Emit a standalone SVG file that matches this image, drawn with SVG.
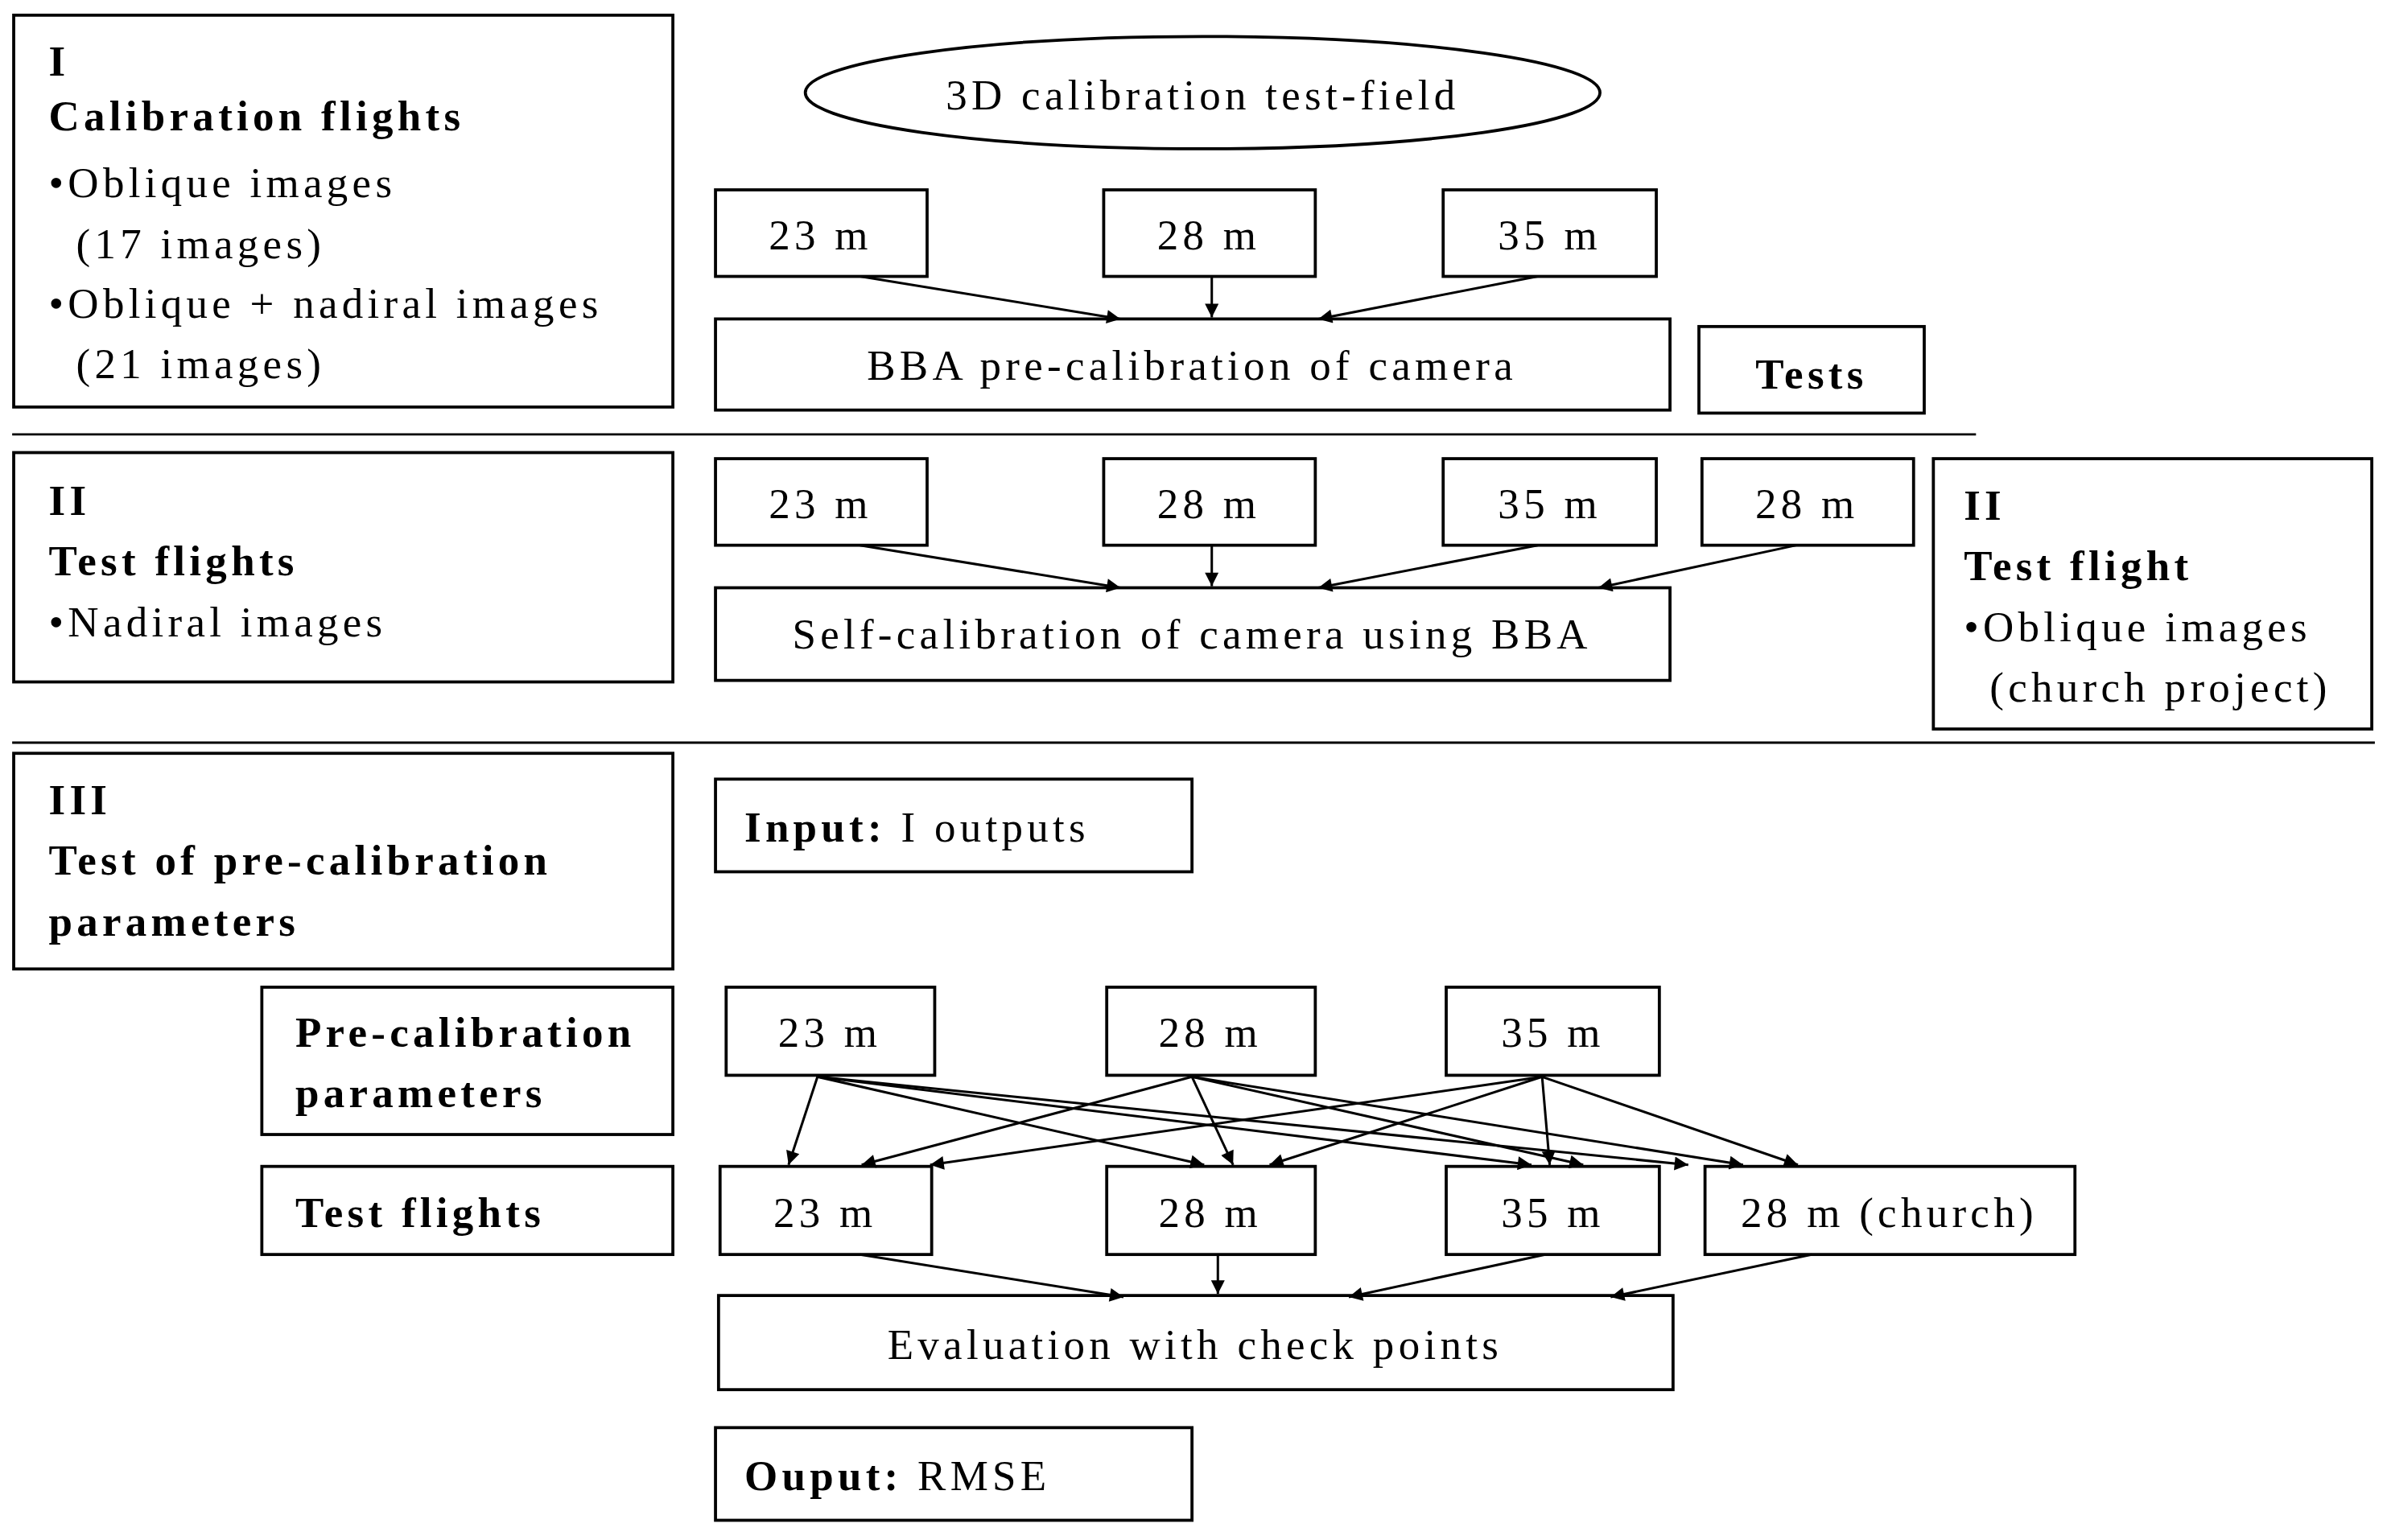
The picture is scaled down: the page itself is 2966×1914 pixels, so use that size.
<svg xmlns="http://www.w3.org/2000/svg" width="2966" height="1914" viewBox="0 0 2966 1914">
<defs>
<marker id="ah" viewBox="0 0 10 10" refX="10" refY="5" markerWidth="14" markerHeight="9" orient="auto" markerUnits="userSpaceOnUse"><path d="M0,0 L10,5 L0,10 z" fill="#000"/></marker>
<style>
rect,ellipse{fill:#fff;stroke:#000;stroke-width:2}
text{font-family:"Liberation Serif",serif;font-size:28px;letter-spacing:2.8px;fill:#000}
.b{font-weight:bold}
.c{text-anchor:middle}
line.a{stroke:#000;stroke-width:1.6;marker-end:url(#ah)}
line.s{stroke:#000;stroke-width:1.5}
</style>
</defs>
<rect x="0" y="0" width="2966" height="1914" style="fill:#fff;stroke:none"/>
<g transform="scale(1.8916 1.8876)">
<g id="sep"><line class="s" x1="8" y1="286" x2="1298" y2="286"/><line class="s" x1="8" y1="489" x2="1560" y2="489"/></g>
<g id="n-I"><rect x="9" y="10" width="433" height="258"/><text x="32" y="50" class="b">I</text><text x="32" y="86" class="b">Calibration flights</text><text x="32" y="130">•Oblique images</text><text x="50" y="170">(17 images)</text><text x="32" y="209">•Oblique + nadiral images</text><text x="50" y="249">(21 images)</text></g>
<g id="n-field"><ellipse cx="790" cy="61" rx="261" ry="37"/><text x="790" y="72" class="c">3D calibration test-field</text></g>
<g id="n-a23"><rect x="470" y="125" width="139" height="57"/><text x="539" y="164" class="c">23 m</text></g>
<g id="n-a28"><rect x="725" y="125" width="139" height="57"/><text x="794" y="164" class="c">28 m</text></g>
<g id="n-a35"><rect x="948" y="125" width="140" height="57"/><text x="1018" y="164" class="c">35 m</text></g>
<g id="n-bba"><rect x="470" y="210" width="627" height="60"/><text x="783" y="250" class="c">BBA pre-calibration of camera</text></g>
<g id="n-tests"><rect x="1116" y="215" width="148" height="57"/><text x="1190" y="256" class="c b">Tests</text></g>
<g id="n-II"><rect x="9" y="298" width="433" height="151"/><text x="32" y="339" class="b">II</text><text x="32" y="379" class="b">Test flights</text><text x="32" y="419">•Nadiral images</text></g>
<g id="n-b23"><rect x="470" y="302" width="139" height="57"/><text x="539" y="341" class="c">23 m</text></g>
<g id="n-b28"><rect x="725" y="302" width="139" height="57"/><text x="794" y="341" class="c">28 m</text></g>
<g id="n-b35"><rect x="948" y="302" width="140" height="57"/><text x="1018" y="341" class="c">35 m</text></g>
<g id="n-b28c"><rect x="1118" y="302" width="139" height="57"/><text x="1187" y="341" class="c">28 m</text></g>
<g id="n-self"><rect x="470" y="387" width="627" height="61"/><text x="783" y="427" class="c">Self-calibration of camera using BBA</text></g>
<g id="n-II2"><rect x="1270" y="302" width="288" height="178"/><text x="1290" y="342" class="b">II</text><text x="1290" y="382" class="b">Test flight</text><text x="1290" y="422">•Oblique images</text><text x="1307" y="462">(church project)</text></g>
<g id="n-III"><rect x="9" y="496" width="433" height="142"/><text x="32" y="536" class="b">III</text><text x="32" y="576" class="b">Test of pre-calibration</text><text x="32" y="616" class="b">parameters</text></g>
<g id="n-in"><rect x="470" y="513" width="313" height="61"/><text x="489" y="554"><tspan class="b">Input:</tspan> I outputs</text></g>
<g id="n-pre"><rect x="172" y="650" width="270" height="97"/><text x="194" y="689" class="b">Pre-calibration</text><text x="194" y="729" class="b">parameters</text></g>
<g id="n-tf"><rect x="172" y="768" width="270" height="58"/><text x="194" y="808" class="b">Test flights</text></g>
<g id="n-c23"><rect x="477" y="650" width="137" height="58"/><text x="545" y="689" class="c">23 m</text></g>
<g id="n-c28"><rect x="727" y="650" width="137" height="58"/><text x="795" y="689" class="c">28 m</text></g>
<g id="n-c35"><rect x="950" y="650" width="140" height="58"/><text x="1020" y="689" class="c">35 m</text></g>
<g id="n-d23"><rect x="473" y="768" width="139" height="58"/><text x="542" y="808" class="c">23 m</text></g>
<g id="n-d28"><rect x="727" y="768" width="137" height="58"/><text x="795" y="808" class="c">28 m</text></g>
<g id="n-d35"><rect x="950" y="768" width="140" height="58"/><text x="1020" y="808" class="c">35 m</text></g>
<g id="n-d28c"><rect x="1120" y="768" width="243" height="58"/><text x="1241" y="808" class="c">28 m (church)</text></g>
<g id="n-eval"><rect x="472" y="853" width="627" height="62"/><text x="785" y="895" class="c">Evaluation with check points</text></g>
<g id="n-out"><rect x="470" y="940" width="313" height="61"/><text x="489" y="981"><tspan class="b">Ouput:</tspan> RMSE</text></g>
<g id="connectors">
<line class="a" x1="565" y1="182" x2="736" y2="210"/><line class="a" x1="796" y1="182" x2="796" y2="209"/><line class="a" x1="1010" y1="182" x2="866" y2="210"/>
<line class="a" x1="565" y1="359" x2="736" y2="387"/><line class="a" x1="796" y1="359" x2="796" y2="386"/><line class="a" x1="1010" y1="359" x2="866" y2="387"/><line class="a" x1="1180" y1="359" x2="1050" y2="387"/>
<line class="a" x1="537" y1="709" x2="518" y2="767"/><line class="a" x1="537" y1="709" x2="791" y2="767"/><line class="a" x1="537" y1="709" x2="1006" y2="767"/><line class="a" x1="537" y1="709" x2="1109" y2="767"/>
<line class="a" x1="783" y1="709" x2="566" y2="767"/><line class="a" x1="783" y1="709" x2="810" y2="767"/><line class="a" x1="783" y1="709" x2="1040" y2="767"/><line class="a" x1="783" y1="709" x2="1145" y2="767"/>
<line class="a" x1="1013" y1="709" x2="611" y2="767"/><line class="a" x1="1013" y1="709" x2="834" y2="767"/><line class="a" x1="1013" y1="709" x2="1018" y2="767"/><line class="a" x1="1013" y1="709" x2="1181" y2="767"/>
<line class="a" x1="565" y1="826" x2="738" y2="854"/><line class="a" x1="800" y1="826" x2="800" y2="852"/><line class="a" x1="1015" y1="826" x2="886" y2="854"/><line class="a" x1="1190" y1="826" x2="1058" y2="854"/>
</g>
</g>
</svg>
